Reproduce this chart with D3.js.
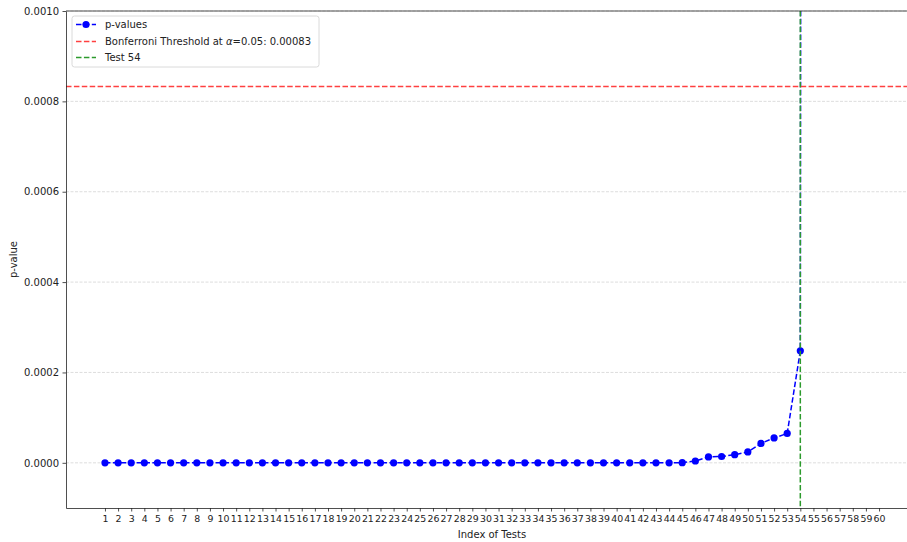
<!DOCTYPE html>
<html>
<head>
<meta charset="utf-8">
<script src="https://cdn.jsdelivr.net/npm/d3@7"></script>
<style>
  body { margin: 0; background: #fff; }
  text { font-family: "DejaVu Sans", sans-serif; }
</style>
</head>
<body>
<div id="vis"></div>
<script>
var width = 907;
var height = 542;

// data
var testIndex = [1, 2, 3, 4, 5, 6, 7, 8, 9, 10, 11, 12, 13, 14, 15, 16, 17, 18, 19, 20,
                 21, 22, 23, 24, 25, 26, 27, 28, 29, 30, 31, 32, 33, 34, 35, 36, 37, 38, 39, 40,
                 41, 42, 43, 44, 45, 46, 47, 48, 49, 50, 51, 52, 53, 54, 55, 56, 57, 58, 59, 60];
var pValues = [0, 0, 0, 0, 0, 0, 0, 0, 0, 0,
               0, 0, 0, 0, 0, 0, 0, 0, 0, 0,
               0, 0, 0, 0, 0, 0, 0, 0, 0, 0,
               0, 0, 0, 0, 0, 0, 0, 0, 0, 0,
               0, 0, 0, 0, 0.0000003, 0.000004, 0.000013, 0.000014, 0.000018, 0.000024,
               0.000043, 0.000055, 0.000065, 0.000248, 0.03, 0.06, 0.1, 0.18, 0.3, 0.5];
var yTicks = [0, 0.0002, 0.0004, 0.0006, 0.0008, 0.0010];
var threshold = 0.000833;
var alphaLevel = "0.05";
var selectedTest = 54;

var plot = {left: 66, right: 918, top: 11, bottom: 508};

var canvas = d3.select("#vis")
                .append("svg")
                .attr("width", width)
                .attr("height", height)
                .style("background-color", "white");

const x = d3.scaleLinear()
        .domain([-1.97, 62.97])
        .range([plot.left, plot.right]);

const y = d3.scaleLinear()
        .domain([-0.0001, 0.001])
        .range([plot.bottom, plot.top]);

canvas.append("defs").append("clipPath")
        .attr("id", "plot-clip")
        .append("rect")
        .attr("x", plot.left)
        .attr("y", plot.top)
        .attr("width", plot.right - plot.left)
        .attr("height", plot.bottom - plot.top);

// grid
canvas.append("g")
        .selectAll("line")
        .data(yTicks)
        .enter()
        .append("line")
        .attr("x1", plot.left)
        .attr("x2", plot.right)
        .attr("y1", d => y(d))
        .attr("y2", d => y(d))
        .style("stroke", "#d6d6d6")
        .style("stroke-width", "0.8px")
        .style("stroke-dasharray", "3,1.5");

var inner = canvas.append("g").attr("clip-path", "url(#plot-clip)");

var line = d3.line()
        .x((d, i) => x(testIndex[i]))
        .y(d => y(d));

inner.append("path")
        .datum(pValues)
        .attr("d", line)
        .style("fill", "none")
        .style("stroke", "#0000ff")
        .style("stroke-width", "1.5px")
        .style("stroke-dasharray", "5.5,2.4");

inner.selectAll(".dot")
        .data(pValues)
        .enter()
        .append("circle")
        .attr("class", "dot")
        .attr("cx", (d, i) => x(testIndex[i]))
        .attr("cy", d => y(d))
        .attr("r", 3.6)
        .style("fill", "#0000ff");

inner.append("line")
        .attr("x1", plot.left)
        .attr("x2", plot.right)
        .attr("y1", y(threshold))
        .attr("y2", y(threshold))
        .style("stroke", "#ff4040")
        .style("stroke-width", "1.5px")
        .style("stroke-dasharray", "5.5,2.4");

inner.append("line")
        .attr("x1", x(selectedTest))
        .attr("x2", x(selectedTest))
        .attr("y1", plot.top)
        .attr("y2", plot.bottom)
        .style("stroke", "#2c9a2c")
        .style("stroke-width", "1.5px")
        .style("stroke-dasharray", "5.5,2.4");

// axes
const xAxis = d3.axisBottom(x)
        .tickValues(testIndex)
        .tickFormat(d => d)
        .tickSize(3.5)
        .tickSizeOuter(0)
        .tickPadding(3.5);

const yAxis = d3.axisLeft(y)
        .tickValues(yTicks)
        .tickFormat(d3.format(".4f"))
        .tickSize(3.5)
        .tickSizeOuter(0)
        .tickPadding(3.5);

var gx = canvas.append("g")
        .attr("transform", `translate(0, ${plot.bottom})`)
        .call(xAxis);

var gy = canvas.append("g")
        .attr("transform", `translate(${plot.left}, 0)`)
        .call(yAxis);

[gx, gy].forEach(g => {
  g.selectAll("text")
    .style("font-size", "10px")
    .style("font-family", "DejaVu Sans")
    .style("fill", "#222");
  g.selectAll("line").style("stroke", "#222").style("stroke-width", "0.8px");
  g.select(".domain").style("stroke", "#222").style("stroke-width", "0.8px");
});
// x labels sit a little tighter in the reference
gx.selectAll("text").style("font-size", "9.4px");

canvas.append("line")
        .attr("x1", plot.left)
        .attr("x2", plot.right)
        .attr("y1", plot.top)
        .attr("y2", plot.top)
        .style("stroke", "#222")
        .style("stroke-width", "0.8px");

canvas.append("text")
        .attr("x", (plot.left + plot.right) / 2)
        .attr("y", 538)
        .attr("text-anchor", "middle")
        .style("font-size", "10px")
        .style("fill", "#222")
        .text("Index of Tests");

canvas.append("text")
        .attr("transform", `translate(17, ${(plot.top + plot.bottom) / 2}) rotate(-90)`)
        .attr("text-anchor", "middle")
        .style("font-size", "10px")
        .style("fill", "#222")
        .text("p-value");

// legend
var legend = canvas.append("g")
        .attr("class", "legend");

legend.append("rect")
        .attr("x", 72)
        .attr("y", 16)
        .attr("width", 247)
        .attr("height", 51)
        .attr("rx", 2.5)
        .style("fill", "rgba(255, 255, 255, 0.8)")
        .style("stroke", "#d0d0d0")
        .style("stroke-width", "0.8px");

var rows = [
  {y: 24.5, color: "#0000ff", marker: true},
  {y: 41.5, color: "#ff4040", marker: false},
  {y: 57.5, color: "#2c9a2c", marker: false}
];

rows.forEach(r => {
  legend.append("line")
    .attr("x1", 76)
    .attr("x2", 96)
    .attr("y1", r.y)
    .attr("y2", r.y)
    .style("stroke", r.color)
    .style("stroke-width", "1.5px")
    .style("stroke-dasharray", "5.5,2.4");
  if (r.marker) {
    legend.append("circle")
      .attr("cx", 86)
      .attr("cy", r.y)
      .attr("r", 3.6)
      .style("fill", r.color);
  }
});

legend.append("text")
        .attr("x", 105)
        .attr("y", 28)
        .style("font-size", "10px")
        .style("fill", "#222")
        .text("p-values");

var bonf = legend.append("text")
        .attr("x", 105)
        .attr("y", 45)
        .style("font-size", "10px")
        .style("fill", "#222");
bonf.append("tspan").text("Bonferroni Threshold at ");
bonf.append("tspan").style("font-style", "italic").text("\u03b1");
bonf.append("tspan").text(`=${alphaLevel}: ${threshold.toFixed(5)}`);

legend.append("text")
        .attr("x", 105)
        .attr("y", 61)
        .style("font-size", "10px")
        .style("fill", "#222")
        .text(`Test ${selectedTest}`);
</script>
</body>
</html>
